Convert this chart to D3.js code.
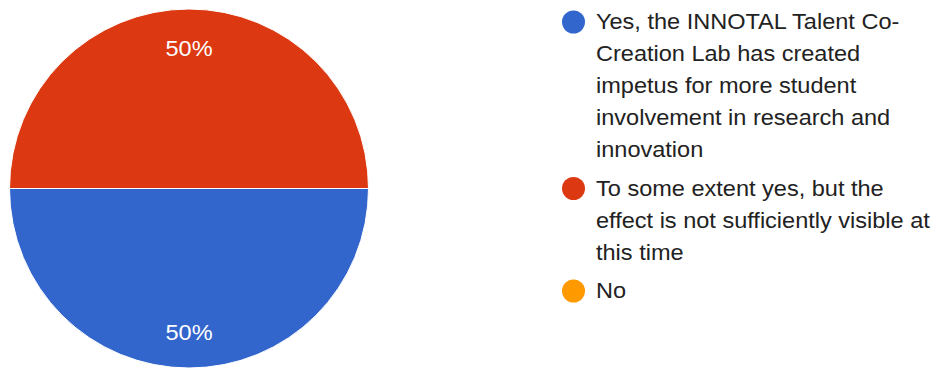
<!DOCTYPE html>
<html>
<head>
<meta charset="utf-8">
<script src="https://cdn.jsdelivr.net/npm/d3@7"></script>
<style>
  html, body { margin: 0; padding: 0; background: #fff; }
  svg { display: block; }
  text { font-family: "Liberation Sans", Arial, sans-serif; }
</style>
</head>
<body>
<svg id="chart" width="940" height="370"></svg>
<script>
// Survey answers and their share of responses (percent)
const categories = [
  "Yes, the INNOTAL Talent Co-Creation Lab has created impetus for more student involvement in research and innovation",
  "To some extent yes, but the effect is not sufficiently visible at this time",
  "No"
];
const shares = [50, 50, 0];
const sliceColors = ["#3366cc", "#dc3912", "#ff9900"];

const svg = d3.select("#chart");
const W = 940, H = 370;

// Text is drawn slightly widened horizontally
const textStretch = 1.07;
const fontSize = 22;

// ---- Pie ----
const cx = 189, cy = 188.5, radius = 179.5;

const data = categories.map((c, i) => ({ category: c, value: shares[i], color: sliceColors[i] }));

const pie = d3.pie()
  .value(d => d.value)
  .sort(null)
  .startAngle(Math.PI / 2)
  .endAngle(Math.PI / 2 + 2 * Math.PI);

const arc = d3.arc().innerRadius(0).outerRadius(radius);
const labelArc = d3.arc().innerRadius(142).outerRadius(142);

const pieG = svg.append("g").attr("transform", `translate(${cx},${cy})`);
const arcs = pie(data).filter(d => d.data.value > 0);

pieG.selectAll("path.slice")
  .data(arcs)
  .join("path")
  .attr("class", "slice")
  .attr("d", arc)
  .attr("fill", d => d.data.color)
  .attr("stroke", "#ffffff")
  .attr("stroke-width", 1);

const fmt = d3.format(".0%");
const total = d3.sum(shares);

pieG.selectAll("text.pct")
  .data(arcs)
  .join("text")
  .attr("class", "pct")
  .attr("transform", d => {
    const [x, y] = labelArc.centroid(d);
    return `translate(${x},${y}) scale(${textStretch},1)`;
  })
  .attr("text-anchor", "middle")
  .attr("dy", "0.43em")
  .attr("fill", "#ffffff")
  .style("font-size", fontSize + "px")
  .text(d => fmt(d.data.value / total));

// ---- Legend ----
const legendX = 573.5;       // marker centre
const textX = 596;           // text start
const firstBaseline = 29;
const lineHeight = 32;
const itemGap = 38.5;        // baseline step from last line of one entry to the next entry
const maxTextWidth = 341;
const markerR = 11.5;

const legend = svg.append("g");

// measurement helper for wrapping
const measurer = legend.append("text")
  .style("font-size", fontSize + "px")
  .attr("visibility", "hidden");

function measure(s) {
  measurer.text(s);
  return measurer.node().getComputedTextLength() * textStretch;
}

// split on spaces, and also allow a break right after a hyphen
function wrap(text) {
  const pieces = [];
  text.split(" ").forEach(word => {
    const parts = word.split(/(?<=-)/);
    parts.forEach((p, j) => pieces.push({ t: p, sep: j === 0 ? " " : "" }));
  });
  const lines = [];
  let cur = "";
  pieces.forEach(p => {
    const trial = cur === "" ? p.t : cur + p.sep + p.t;
    if (cur !== "" && measure(trial) > maxTextWidth) {
      lines.push(cur);
      cur = p.t;
    } else {
      cur = trial;
    }
  });
  if (cur !== "") lines.push(cur);
  return lines;
}

let baseline = firstBaseline;
data.forEach(d => {
  const lines = wrap(d.category);
  const item = legend.append("g");
  item.append("circle")
    .attr("cx", legendX)
    .attr("cy", baseline - 7)
    .attr("r", markerR)
    .attr("fill", d.color);
  lines.forEach((ln, k) => {
    item.append("text")
      .attr("transform", `translate(${textX},${baseline + k * lineHeight}) scale(${textStretch},1)`)
      .attr("fill", "#222222")
      .style("font-size", fontSize + "px")
      .text(ln);
  });
  baseline += (lines.length - 1) * lineHeight + itemGap;
});

measurer.remove();
</script>
</body>
</html>
